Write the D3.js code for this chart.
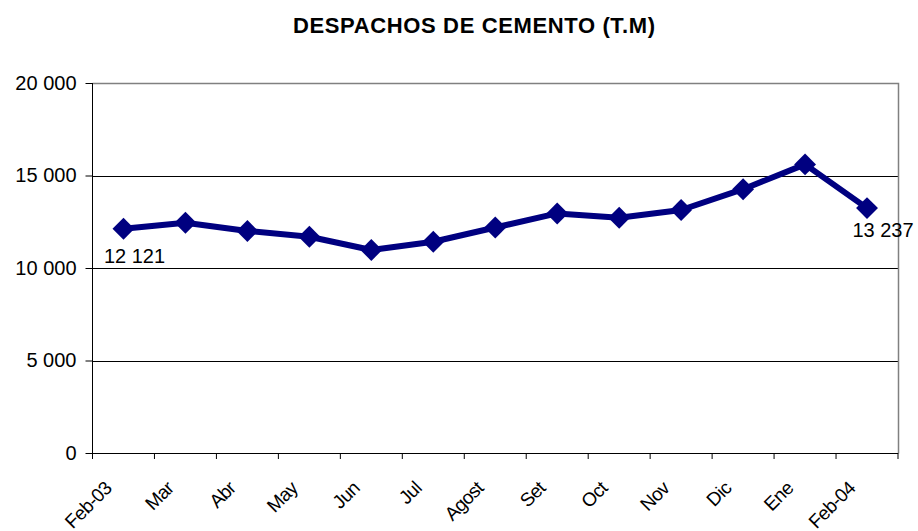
<!DOCTYPE html>
<html><head><meta charset="utf-8">
<script src="https://cdn.jsdelivr.net/npm/d3@7"></script>
<style>
html,body{margin:0;padding:0;background:#fff;}
svg{display:block;font-family:Arial,"Liberation Sans",sans-serif;}
</style></head>
<body><svg id="chart" width="918" height="531"></svg>
<script>
const title = "DESPACHOS DE CEMENTO (T.M)";
const categories = ["Feb-03","Mar","Abr","May","Jun","Jul","Agost","Set","Oct","Nov","Dic","Ene","Feb-04"];
const values = [12121, 12450, 12000, 11690, 10975, 11420, 12190, 12950, 12720, 13135, 14260, 15600, 13237];
const yTicks = [0, 5000, 10000, 15000, 20000];
const labeledIndices = [0, 12];

const W = 918, H = 531;
const m = {left: 92.5, right: 20, top: 83, bottom: 78};
const svg = d3.select("#chart");
const fmt = v => d3.format(",")(v).replace(/,/g, " ");

const x = d3.scaleBand().domain(categories).range([m.left, W - m.right]);
const y = d3.scaleLinear().domain([0, 20000]).range([H - m.bottom, m.top]);

// title
svg.append("text").attr("x", 474).attr("y", 33).attr("text-anchor", "middle")
  .attr("font-weight", "bold").attr("font-size", 22)
  .attr("textLength", 362).attr("lengthAdjust", "spacing").text(title);

// gridlines
svg.append("g").selectAll("line").data(yTicks.filter(t => t > 0 && t < 20000)).join("line")
  .attr("x1", m.left).attr("x2", W - m.right)
  .attr("y1", d => Math.round(y(d)) + 0.5).attr("y2", d => Math.round(y(d)) + 0.5)
  .attr("stroke", "#000").attr("stroke-width", 1);

// plot border (top, right) grey
svg.append("path")
  .attr("d", `M${m.left},${Math.round(y(20000)) + 0.5}H${W - m.right + 0.5}V${Math.round(y(0)) + 0.5}`)
  .attr("fill", "none").attr("stroke", "#808080").attr("stroke-width", 1.5);

// y axis
const yAxis = svg.append("g").attr("transform", `translate(${m.left},0)`)
  .call(d3.axisLeft(y).tickValues(yTicks).tickSize(7).tickPadding(9).tickFormat(fmt));
yAxis.selectAll("path,line").attr("stroke", "#000");
yAxis.select(".domain").attr("d", `M0,${y(20000)}V${y(0)}`);
yAxis.selectAll("text").attr("font-size", 20).attr("font-family", "Arial,'Liberation Sans',sans-serif").attr("fill", "#000");

// x axis
const bounds = categories.map(c => x(c)).concat([W - m.right]);
const xg = svg.append("g");
xg.append("line").attr("x1", m.left).attr("x2", W - m.right)
  .attr("y1", Math.round(y(0)) + 0.5).attr("y2", Math.round(y(0)) + 0.5).attr("stroke", "#000");
xg.selectAll("line.tk").data(bounds).join("line").attr("class", "tk")
  .attr("x1", d => d).attr("x2", d => d)
  .attr("y1", y(0)).attr("y2", y(0) + 6).attr("stroke", "#000");
xg.selectAll("text").data(categories).join("text")
  .attr("transform", d => `translate(${x(d) + x.bandwidth() / 2 - 20},${y(0) + 27}) rotate(-45)`)
  .attr("text-anchor", "end").attr("dy", "0.7em")
  .attr("font-size", 19).attr("letter-spacing", -0.6).attr("fill", "#000").text(d => d);

// line
const pts = categories.map((c, i) => [x(c) + x.bandwidth() / 2, y(values[i])]);
svg.append("path").datum(pts).attr("d", d3.line())
  .attr("fill", "none").attr("stroke", "#000080").attr("stroke-width", 6).attr("stroke-linejoin", "round");

// markers
const sym = d3.symbol().type(d3.symbolSquare).size(240);
svg.append("g").selectAll("path").data(pts).join("path")
  .attr("transform", d => `translate(${d[0]},${d[1]}) rotate(45)`)
  .attr("d", sym).attr("fill", "#000080");

// data labels
const labelOffsets = {0: [11, 34], 12: [16, 29]};
svg.append("g").selectAll("text").data(labeledIndices).join("text")
  .attr("x", i => pts[i][0] + labelOffsets[i][0])
  .attr("y", i => pts[i][1] + labelOffsets[i][1])
  .attr("text-anchor", "middle").attr("font-size", 20).attr("fill", "#000")
  .text(i => fmt(values[i]));
</script></body></html>
